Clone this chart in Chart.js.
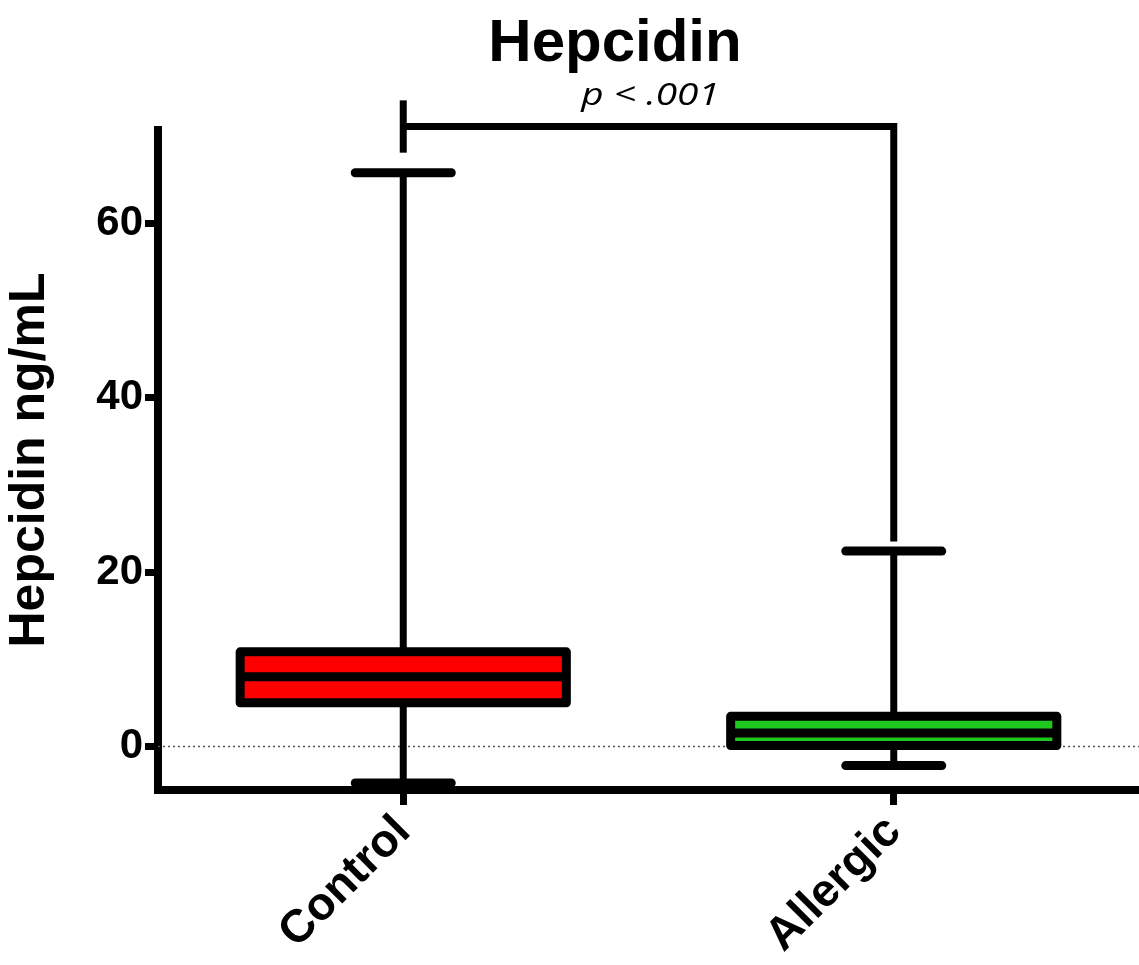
<!DOCTYPE html>
<html><head><meta charset="utf-8">
<script src="https://cdn.jsdelivr.net/npm/chart.js@4.4.1/dist/chart.umd.min.js"></script>
<style>html,body{margin:0;padding:0;background:#fff}#wrap{position:relative;width:1139px;height:965px}</style>
</head><body><div id="wrap"><canvas id="c" width="1139" height="965"></canvas></div>
<script>
// ---- data ----
const categories = ['Control', 'Allergic'];
const whiskerMin = [-4.2, -2.2];
const q1 = [5.0, 0.1];
const median = [8.0, 1.55];
const q3 = [10.85, 3.45];
const whiskerMax = [65.8, 22.4];
const boxColors = ['#ff0000', '#1ec81e'];
const yTickValues = [0, 20, 40, 60];
const yMin = -5, yMax = 70.7;
const titleText = 'Hepcidin';
const yAxisTitle = 'Hepcidin ng/mL';
const pText = 'p < .001';
const bracketLevel = 71.1;
const bracketLeftTip = [74.1, 68.1];
const bracketRightEnd = 23.5;

const FONT = '"Liberation Sans", Arial, sans-serif';

const boxPlugin = {
  id: 'boxplot',
  beforeDatasetsDraw(chart) {
    const ctx = chart.ctx, ys = chart.scales.y, area = chart.chartArea;
    const meta = chart.getDatasetMeta(0);
    ctx.save();
    ctx.strokeStyle = '#555';
    ctx.lineWidth = 1.5;
    ctx.setLineDash([2, 3]);
    const y0 = ys.getPixelForValue(0);
    ctx.beginPath(); ctx.moveTo(area.left, y0); ctx.lineTo(area.right, y0); ctx.stroke();
    ctx.setLineDash([]);
    ctx.strokeStyle = '#000';
    meta.data.forEach((bar, i) => {
      const x = bar.x;
      ctx.lineWidth = 7; ctx.lineCap = 'butt';
      ctx.beginPath();
      ctx.moveTo(x, ys.getPixelForValue(whiskerMax[i]));
      ctx.lineTo(x, ys.getPixelForValue(whiskerMin[i]));
      ctx.stroke();
      ctx.lineWidth = 9; ctx.lineCap = 'round';
      [whiskerMax[i], whiskerMin[i]].forEach(v => {
        const yy = ys.getPixelForValue(v);
        ctx.beginPath(); ctx.moveTo(x - 48, yy); ctx.lineTo(x + 48, yy); ctx.stroke();
      });
    });
    ctx.restore();
  },
  afterDatasetsDraw(chart) {
    const ctx = chart.ctx, ys = chart.scales.y;
    const meta = chart.getDatasetMeta(0);
    ctx.save();
    ctx.strokeStyle = '#000';
    ctx.lineWidth = 9;
    ctx.lineJoin = 'round';
    meta.data.forEach((bar, i) => {
      const x = bar.x, half = bar.width / 2;
      const yt = ys.getPixelForValue(q3[i]), yb = ys.getPixelForValue(q1[i]);
      ctx.strokeRect(x - half, yt, 2 * half, yb - yt);
      const ym = ys.getPixelForValue(median[i]);
      ctx.beginPath(); ctx.moveTo(x - half, ym); ctx.lineTo(x + half, ym); ctx.stroke();
    });
    ctx.restore();
  },
  afterDraw(chart) {
    const ctx = chart.ctx, ys = chart.scales.y;
    const meta = chart.getDatasetMeta(0);
    const xL = meta.data[0].x, xR = meta.data[1].x;
    ctx.save();
    ctx.strokeStyle = '#000'; ctx.lineWidth = 7; ctx.lineCap = 'butt';
    const yb = ys.getPixelForValue(bracketLevel);
    ctx.beginPath();
    ctx.moveTo(xL, ys.getPixelForValue(bracketLeftTip[0]));
    ctx.lineTo(xL, ys.getPixelForValue(bracketLeftTip[1]));
    ctx.stroke();
    ctx.beginPath();
    ctx.moveTo(xL, yb); ctx.lineTo(xR, yb); ctx.lineTo(xR, ys.getPixelForValue(bracketRightEnd));
    ctx.stroke();
    ctx.fillStyle = '#000';
    ctx.textAlign = 'center'; ctx.textBaseline = 'alphabetic';
    // p value (slightly widened glyphs like the reference)
    ctx.save();
    ctx.translate((xL + xR) / 2 + 2, 105);
    ctx.scale(1.25, 1);
    ctx.font = 'italic 31px "Open Sans", sans-serif';
    ctx.fillText(pText, 0, 0);
    ctx.restore();
    ctx.font = 'bold 60px ' + FONT;
    ctx.fillText(titleText, 615, 61);
    ctx.restore();
  }
};

new Chart(document.getElementById('c'), {
  type: 'bar',
  data: {
    labels: categories,
    datasets: [{
      data: categories.map((c, i) => [q1[i], q3[i]]),
      backgroundColor: boxColors,
      borderWidth: 0,
      categoryPercentage: 0.665,
      barPercentage: 1
    }]
  },
  options: {
    responsive: false,
    animation: false,
    devicePixelRatio: 1,
    layout: { padding: { top: 130, left: 0, right: 0, bottom: 0 } },
    plugins: { legend: { display: false }, tooltip: { enabled: false }, title: { display: false } },
    scales: {
      x: {
        type: 'category',
        offset: true,
        afterFit(s) { s.height = 175; },
        grid: { drawOnChartArea: false, offset: false, color: '#000', lineWidth: 7, tickLength: 15 },
        border: { color: '#000', width: 8 },
        ticks: { color: '#000', font: { family: FONT, weight: 'bold', size: 46 }, minRotation: 45, maxRotation: 45, padding: 0 }
      },
      y: {
        min: yMin, max: yMax,
        afterFit(s) { s.width = 158; },
        afterBuildTicks(ax) { ax.ticks = yTickValues.map(v => ({ value: v })); },
        grid: { drawOnChartArea: false, color: '#000', lineWidth: 7, tickLength: 13 },
        border: { color: '#000', width: 8 },
        ticks: { color: '#000', font: { family: FONT, weight: 'bold', size: 42 }, padding: 2 },
        title: { display: true, text: yAxisTitle, color: '#000', font: { family: FONT, weight: 'bold', size: 50 }, padding: { top: 0, bottom: 0 } }
      }
    }
  },
  plugins: [boxPlugin]
});
</script>
</body></html>
